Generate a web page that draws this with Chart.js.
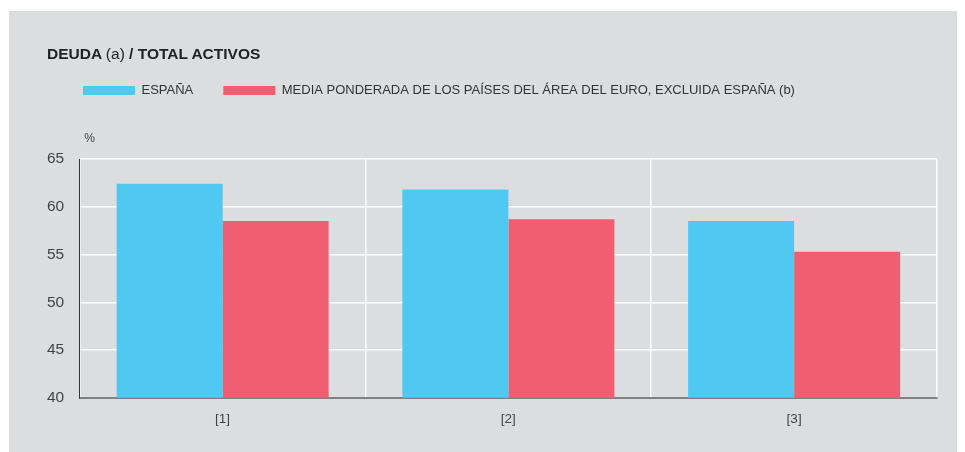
<!DOCTYPE html>
<html>
<head>
<meta charset="utf-8">
<script src="https://cdn.jsdelivr.net/npm/chart.js@4/dist/chart.umd.min.js"></script>
<style>
  body { margin: 0; background: #fff; font-family: "Liberation Sans", Arial, sans-serif; }
  #panel { position: absolute; left: 9px; top: 11px; width: 948px; height: 441px; background: #dcdddf; }
  #title { position: absolute; left: 38px; top: 35px; font-size: 15.5px; line-height: 16px; color: #222; font-weight: bold; white-space: nowrap; }
  #title span { font-weight: normal; }
  #wrap { position: absolute; left: 0; top: 0; width: 948px; height: 441px; }
</style>
</head>
<body>
<div id="panel">
  <div id="wrap"><canvas id="chart"></canvas></div>
  <div id="title">DEUDA <span>(a)</span> / TOTAL ACTIVOS</div>
</div>
<script>
let categories = ['[1]', '[2]', '[3]']
let espana = [62.4, 61.8, 58.5]
let mediaEuro = [58.5, 58.7, 55.3]
let seriesNames = ['ESPAÑA', 'MEDIA PONDERADA DE LOS PAÍSES DEL ÁREA DEL EURO, EXCLUIDA ESPAÑA (b)']
let yTicks = [40, 45, 50, 55, 60, 65]

// push the plot down below the legend, and nudge the legend right
let legendSpace = {
    id: 'legendSpace',
    beforeInit(chart) {
        let fit = chart.legend.fit
        chart.legend.fit = function () {
            fit.bind(chart.legend)()
            this.height += 52
        }
    },
    afterLayout(chart) {
        chart.legend.left += 21.5
    }
}

// small "%" unit label above the y axis
let unitLabel = {
    id: 'unitLabel',
    afterDraw(chart) {
        let ctx = chart.ctx
        let area = chart.chartArea
        ctx.save()
        ctx.font = '12px "Liberation Sans", Arial, sans-serif'
        ctx.fillStyle = '#444'
        ctx.textBaseline = 'middle'
        ctx.fillText('%', area.left + 4.5, area.top - 20.5)
        ctx.restore()
    }
}

new Chart(document.getElementById('chart'), {
    type: 'bar',
    data: {
        labels: categories,
        datasets: [{
            label: seriesNames[0],
            data: espana,
            backgroundColor: '#4fc8f2',
            borderWidth: 0
        }, {
            label: seriesNames[1],
            data: mediaEuro,
            backgroundColor: '#f05f71',
            borderWidth: 0
        }]
    },
    options: {
        responsive: true,
        maintainAspectRatio: false,
        animation: false,
        categoryPercentage: 0.742,
        barPercentage: 1,
        layout: { padding: { top: 43, left: 22.5, right: 20, bottom: 12 } },
        scales: {
            x: {
                z: 1,
                offset: true,
                grid: { color: '#ffffff', lineWidth: 1.5, drawTicks: false, offset: true },
                border: { color: 'rgba(90,90,90,0.75)', width: 2 },
                ticks: {
                    color: '#444',
                    padding: 13,
                    font: { family: '"Liberation Sans", Arial, sans-serif', size: 13.5 }
                }
            },
            y: {
                min: 40,
                max: 65,
                afterBuildTicks(scale) { scale.ticks = yTicks.map(v => ({ value: v })) },
                grid: { color: '#ffffff', lineWidth: 1.5, drawTicks: false },
                border: { color: '#333', width: 1 },
                ticks: {
                    color: '#444',
                    padding: 15.5,
                    font: { family: '"Liberation Sans", Arial, sans-serif', size: 15.5 }
                }
            }
        },
        plugins: {
            legend: {
                position: 'top',
                align: 'start',
                labels: {
                    boxWidth: 52,
                    boxHeight: 9,
                    padding: 30,
                    color: '#333',
                    font: { family: '"Liberation Sans", Arial, sans-serif', size: 13 }
                }
            },
            tooltip: { enabled: false }
        }
    },
    plugins: [legendSpace, unitLabel]
})
</script>
</body>
</html>
